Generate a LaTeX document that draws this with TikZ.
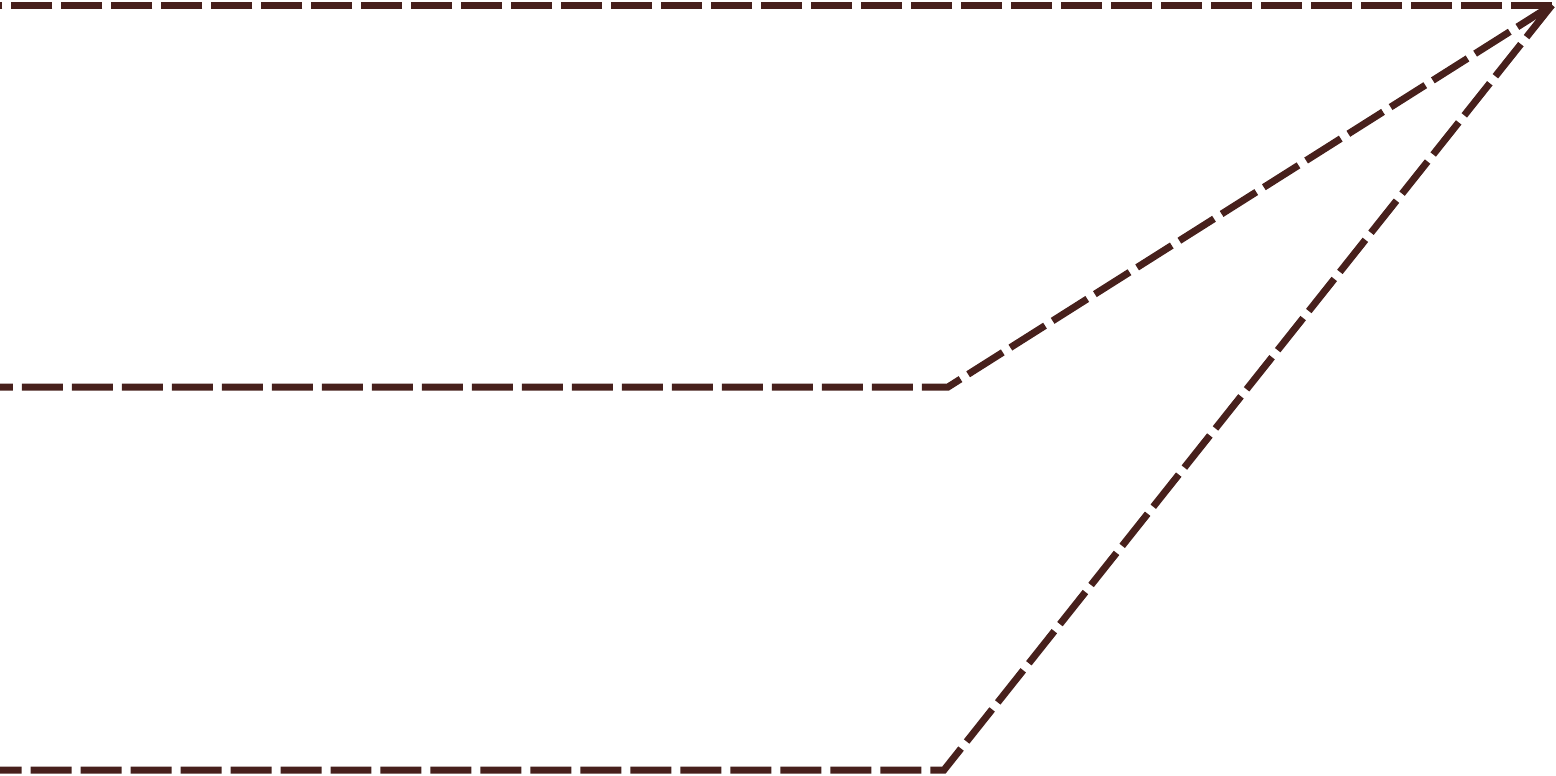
\documentclass[tikz,border=0pt]{standalone}
\usetikzlibrary{positioning}
\definecolor{marron}{HTML}{47201C}

\begin{document}
\begin{tikzpicture}[x=0.02cm, y=-0.02cm,
      guia/.style={draw=marron, line width=0.14cm, dash pattern=on 0.82cm off 0.18cm,
                   line join=miter}]
    \useasboundingbox (0,0) rectangle (1556,775);
    \coordinate (punta) at (1552,5);
    \coordinate (arriba) at (0,5);
    \coordinate (codoM) at (948,387);
    \coordinate (medio) at (0,387);
    \coordinate (codoB) at (944,770);
    \coordinate (abajo) at (0,770);
    \draw[guia] (punta) -- (arriba);
    \draw[guia] (punta) -- (codoM) -- (medio);
    \draw[guia] (punta) -- (codoB) -- (abajo);
  \end{tikzpicture}
\end{document}
